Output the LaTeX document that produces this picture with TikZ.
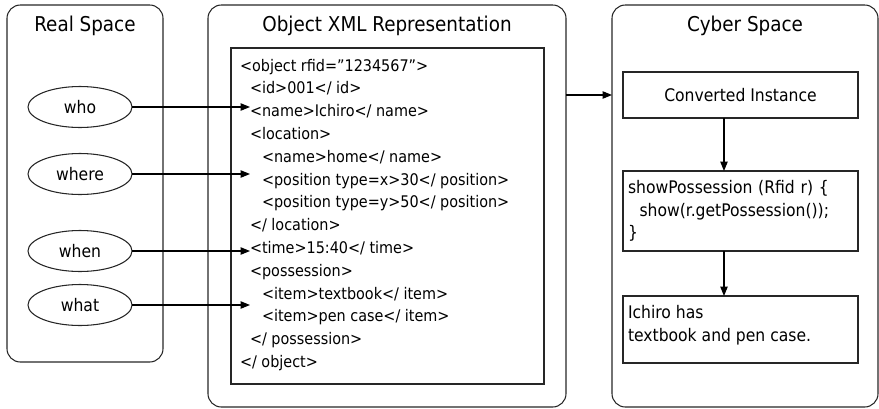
\documentclass[tikz,border=0pt]{standalone}
\usepackage{fontspec}
\setmainfont{DejaVu Sans Condensed}
\usetikzlibrary{arrows.meta,shapes.geometric}
\begin{document}
\begin{tikzpicture}[x=0.75pt,y=-0.75pt,
  every node/.style={inner sep=0pt, outer sep=0pt},
  panel/.style={draw=black!85, line width=0.8pt, rounded corners=10pt},
  frame/.style={draw=black!85, line width=0.8pt},
  oval/.style={draw=black!85, line width=0.8pt, ellipse, minimum width=104*0.75pt, minimum height=41*0.75pt, font=\fontsize{13pt}{15pt}\selectfont},
  title/.style={font=\fontsize{15.3pt}{18pt}\selectfont},
  body/.style={font=\fontsize{13pt}{17pt}\selectfont},
  xmlline/.style={anchor=base west, font=\fontsize{12pt}{15pt}\selectfont},
  link/.style={line width=0.8pt, -{Triangle[length=7pt,width=5.5pt]}},
]
\useasboundingbox (0,0) rectangle (879,408);

% three panels
\node[panel, minimum width=156*0.75pt, minimum height=357*0.75pt] (real) at (85,183.5) {};
\node[panel, minimum width=358*0.75pt, minimum height=402*0.75pt] (xmlpanel) at (387,206) {};
\node[panel, minimum width=266*0.75pt, minimum height=402*0.75pt] (cyber) at (745,206) {};

\node[title] (realtitle) at (85,26) {Real Space};
\node[title] (xmltitle) at (387,26) {Object XML Representation};
\node[title] (cybertitle) at (745,26) {Cyber Space};

% real-space attributes
\node[oval] (who) at (80,107) {who};
\node[oval] (where) at (80,174) {where};
\node[oval] (when) at (80,251) {when};
\node[oval] (what) at (80,305) {what};

% XML listing
\node[frame, minimum width=313*0.75pt, minimum height=336*0.75pt] (xmlbox) at (387.5,216) {};
\foreach \i/\ind/\txt in {
  0/240/{<object rfid=”1234567”>},
  1/250/{<id>001</ id>},
  2/250/{<name>Ichiro</ name>},
  3/250/{<location>},
  4/262/{<name>home</ name>},
  5/262/{<position type=x>30</ position>},
  6/262/{<position type=y>50</ position>},
  7/250/{</ location>},
  8/250/{<time>15:40</ time>},
  9/250/{<possession>},
  10/262/{<item>textbook</ item>},
  11/262/{<item>pen case</ item>},
  12/250/{</ possession>},
  13/240/{</ object>}}
  \node[xmlline] (x\i) at (\ind,{71+22.8*\i}) {\txt};

\coordinate (tipx) at (250,0);
\draw[link] (who.east) -- (who -| tipx);
\draw[link] (where.east) -- (where -| tipx);
\draw[link] (when.east) -- (when -| tipx);
\draw[link] (what.east) -- (what -| tipx);

% cyber-space processing chain
\node[frame, body, minimum width=235*0.75pt, minimum height=46*0.75pt] (conv) at (740.5,95) {Converted Instance};
\node[frame, body, minimum width=235*0.75pt, minimum height=80*0.75pt, align=left, text width=225*0.75pt] (show) at (740.5,211)
  {showPossession (Rfid r) \{\\\ \ show(r.getPossession());\\\}};
\node[frame, minimum width=235*0.75pt, minimum height=67*0.75pt] (result) at (740.5,329.5) {};
\node[body, anchor=base west, align=left] (resulttext) at (628,341) {Ichiro has\\textbook and pen case.};

\coordinate (downx) at (724,0);
\draw[link] (xmlpanel.east |- conv.west) -- (cyber.west |- conv.west);
\draw[link] (conv.south -| downx) -- (show.north -| downx);
\draw[link] (show.south -| downx) -- (result.north -| downx);
\end{tikzpicture}
\end{document}
